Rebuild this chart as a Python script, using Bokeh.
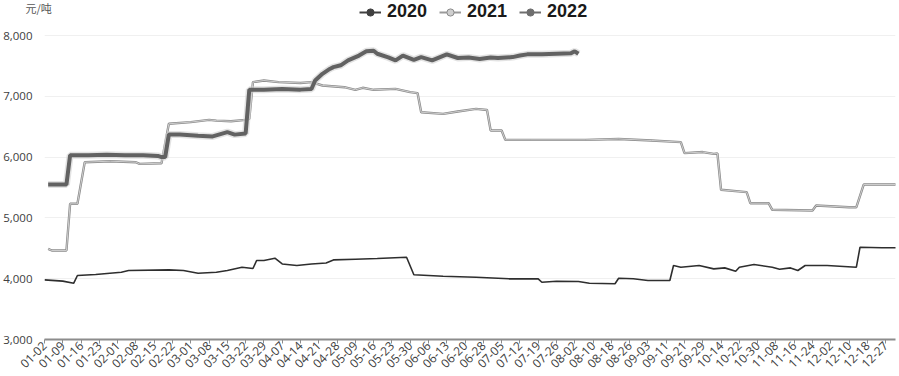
import math
from bokeh.plotting import figure
from bokeh.models import (Range1d, FixedTicker, NumeralTickFormatter, Legend, LegendItem,
                          ColumnDataSource)
from bokeh.embed import file_html
from bokeh.resources import INLINE

# ---- tick labels (one per 5 trading days) ----
tick_labels = ["01-02", "01-09", "01-16", "01-23", "02-01", "02-08", "02-15", "02-22",
               "03-01", "03-08", "03-15", "03-22", "03-29", "04-07", "04-14", "04-21",
               "04-28", "05-09", "05-16", "05-23", "05-30", "06-06", "06-13", "06-20",
               "06-28", "07-05", "07-12", "07-19", "07-26", "08-02", "08-10", "08-18",
               "08-26", "09-03", "09-11", "09-21", "09-29", "10-14", "10-22", "10-30",
               "11-08", "11-16", "11-24", "12-02", "12-10", "12-18", "12-27"]
tick_step = 5

# ---- series: trading-day index and price (元/吨) ----
day_2020 = [0, 5, 8, 9, 14, 21, 23, 34, 38, 42, 47, 50, 54, 57, 58, 60, 63, 65, 69, 73,
            77, 79, 85, 91, 99, 101, 109, 118, 127, 135, 136, 140, 146, 149, 156, 157,
            161, 165, 171, 172, 174, 179, 183, 186, 189, 190, 194, 199, 201, 204, 206,
            208, 214, 222, 223, 229, 233]
val_2020 = [3980, 3960, 3926, 4053, 4069, 4107, 4135, 4146, 4135, 4090, 4107, 4135, 4189,
            4168, 4299, 4299, 4337, 4243, 4217, 4243, 4259, 4309, 4320, 4332, 4354, 4064,
            4041, 4025, 3998, 3998, 3942, 3959, 3954, 3926, 3916, 4008, 3998, 3970, 3970,
            4217, 4189, 4217, 4162, 4178, 4123, 4189, 4233, 4189, 4156, 4178, 4135, 4217,
            4217, 4189, 4518, 4508, 4508]

day_2021 = [1, 2, 6, 7, 9, 11, 18, 25, 26, 32, 34, 40, 45, 47, 51, 55, 56, 57, 60, 64,
            70, 73, 76, 82, 85, 87, 90, 96, 100, 102, 103, 109, 113, 118, 121, 122, 125,
            126, 133, 148, 157, 166, 174, 175, 180, 183, 184, 185, 192, 193, 198, 199,
            210, 211, 220, 222, 224, 233]
val_2021 = [4490, 4464, 4464, 5232, 5232, 5916, 5933, 5916, 5888, 5900, 6548, 6576, 6612,
            6600, 6590, 6612, 6630, 7234, 7260, 7234, 7220, 7234, 7178, 7150, 7107, 7140,
            7107, 7123, 7069, 7053, 6738, 6711, 6750, 6793, 6776, 6437, 6437, 6283, 6283,
            6283, 6299, 6273, 6246, 6066, 6083, 6053, 6060, 5462, 5424, 5242, 5242, 5133,
            5122, 5204, 5176, 5176, 5549, 5549]

day_2022 = [1, 6, 7, 12, 17, 22, 27, 31, 32, 33, 34, 37, 42, 46, 50, 52, 55, 56, 60, 65,
            70, 73, 74, 76, 78, 79, 81, 83, 86, 88, 90, 91, 94, 96, 98, 101, 103, 106,
            108, 110, 113, 116, 119, 122, 124, 128, 130, 132, 136, 140, 144, 145, 146]
val_2022 = [5550, 5550, 6030, 6030, 6040, 6030, 6030, 6020, 6000, 6000, 6370, 6370, 6350,
            6340, 6410, 6370, 6390, 7110, 7110, 7120, 7110, 7120, 7260, 7370, 7450, 7480,
            7510, 7590, 7670, 7740, 7750, 7700, 7640, 7590, 7670, 7600, 7645, 7590, 7640,
            7690, 7630, 7640, 7615, 7640, 7630, 7645, 7670, 7690, 7690, 7700, 7710, 7740,
            7700]

series_names = ["2020", "2021", "2022"]
y_ticks = [3000, 4000, 5000, 6000, 7000, 8000]
unit_label = "元/吨"

# y range extends above 8,000 so that the legend sits inside the frame
p = figure(width=899, height=376, output_backend="svg", toolbar_location=None,
           x_range=Range1d(0, 232.7), y_range=Range1d(3000, 8576),
           min_border_left=42, min_border_right=4, min_border_top=0, min_border_bottom=37,
           title=unit_label)
p.outline_line_color = None
p.background_fill_color = "white"
p.title.align = "left"
p.title.offset = -19
p.title.standoff = -30
p.title.text_font = "Noto Sans CJK SC"
p.title.text_font_size = "11px"
p.title.text_font_style = "normal"
p.title.text_color = "#555555"

# 2020
p.line(day_2020, val_2020, line_color="#2e2e2e", line_width=1.6)
# 2021 (gray line with lighter core)
p.line(day_2021, val_2021, line_color="#8a8a8a", line_width=2.4)
p.line(day_2021, val_2021, line_color="#d6d6d6", line_width=0.9)
# 2022 (thick with soft halo)
p.line(day_2022, val_2022, line_color="#d0d0d0", line_width=7, line_alpha=0.6)
p.line(day_2022, val_2022, line_color="#626262", line_width=4)

# axes
ticks = [i * tick_step for i in range(len(tick_labels))]
p.xaxis.ticker = FixedTicker(ticks=ticks)
p.xaxis.major_label_overrides = {t: lab for t, lab in zip(ticks, tick_labels)}
p.xaxis.major_label_orientation = math.pi / 4
p.xaxis.major_label_text_font = "Open Sans"
p.xaxis.major_label_text_font_size = "12px"
p.xaxis.major_label_text_color = "#404040"
p.xaxis.axis_line_color = "#8c8c8c"
p.xaxis.axis_line_width = 2
p.xaxis.major_tick_line_color = "#8c8c8c"
p.xaxis.major_tick_out = 4
p.xaxis.major_tick_in = 0
p.xaxis.minor_tick_line_color = None
p.xaxis.major_label_standoff = 0

p.yaxis.ticker = FixedTicker(ticks=y_ticks)
p.yaxis.formatter = NumeralTickFormatter(format="0,0")
p.yaxis.axis_line_color = None
p.yaxis.major_tick_line_color = None
p.yaxis.minor_tick_line_color = None
p.yaxis.major_label_text_font = "Open Sans"
p.yaxis.major_label_text_font_size = "11.5px"
p.yaxis.major_label_text_color = "#404040"
p.yaxis.major_label_standoff = 6

p.xgrid.grid_line_color = None
p.ygrid.grid_line_color = "#f0f0f0"
p.ygrid.ticker = FixedTicker(ticks=y_ticks)

# legend (off-range dummy renderers carry the line+marker glyphs)
styles = [("#404040", "#404040", "#404040"), ("#9a9a9a", "#cfcfcf", "#8a8a8a"),
          ("#6e6e6e", "#6e6e6e", "#6e6e6e")]
items = []
for name, (lc, fc, oc) in zip(series_names, styles):
    src = ColumnDataSource(dict(x=[-100, -99], y=[0, 0]))
    lr = p.line("x", "y", source=src, line_color=lc, line_width=2)
    sr = p.scatter("x", "y", source=src, size=9, fill_color=fc, line_color=oc, line_width=1)
    items.append(LegendItem(label=name, renderers=[lr, sr]))
legend = Legend(items=items, orientation="horizontal", location=(315, 317),
                border_line_color=None, background_fill_alpha=0,
                label_text_font="Liberation Sans", label_text_font_style="bold",
                label_text_font_size="18px", label_text_color="#1a1a1a",
                glyph_width=22, glyph_height=18, label_standoff=6, spacing=12,
                padding=0, margin=0)
p.add_layout(legend, "center")

open("out.html", "w").write(file_html(p, INLINE))
